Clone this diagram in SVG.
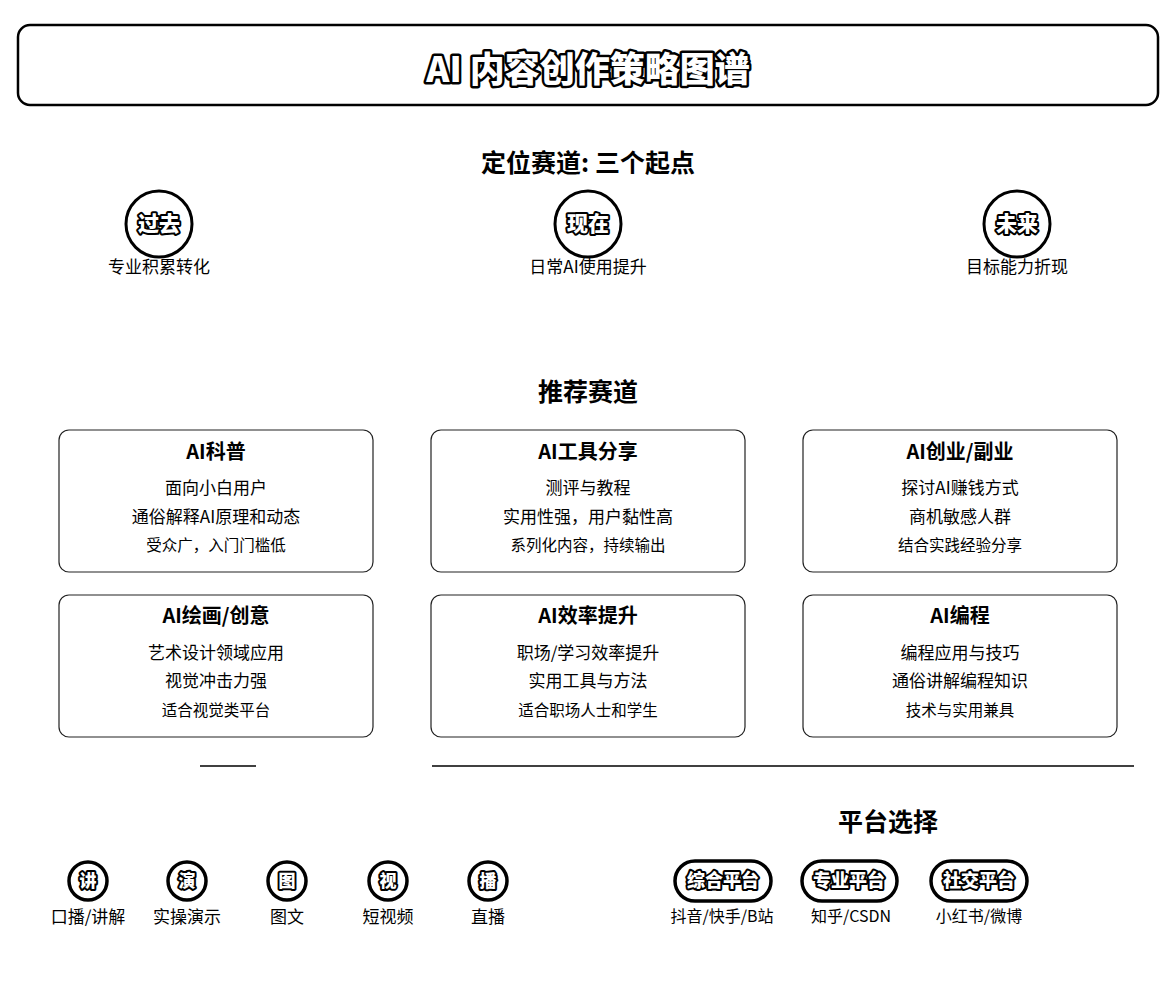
<svg xmlns="http://www.w3.org/2000/svg" width="1174" height="1004" viewBox="0 0 1174 1004">
<style>
text{font-family:"Noto Sans CJK SC","Liberation Sans",sans-serif;fill:#000;text-anchor:middle}
.title{font-size:35px;font-weight:900;fill:#fff;stroke:#000;stroke-width:5px;paint-order:stroke;stroke-linejoin:round}
.h2{font-size:25px;font-weight:700}
.big{fill:#fff;stroke:#000;stroke-width:3px}
.halo{font-weight:900;fill:#fff;stroke:#000;stroke-width:4px;paint-order:stroke;stroke-linejoin:round}
.lbl{font-size:17px}
.plbl{font-size:16px}
.card{fill:#fff;stroke:#222;stroke-width:1.2px}
.ct{font-size:20px;font-weight:700}
.cl{font-size:17px}
.cs{font-size:15.5px}
.sm{fill:#fff;stroke:#000;stroke-width:3.5px}
.rule{stroke:#000;stroke-width:1.5px}
</style>
<rect width="1174" height="1004" fill="#fff"/>
<g id="header">
<rect x="18" y="25" width="1140" height="80" rx="12" fill="#fff" stroke="#000" stroke-width="2.5"/>
<text class="title" x="588" y="82">AI 内容创作策略图谱</text>
</g>
<g id="section-start">
<text class="h2" x="588" y="172">定位赛道: 三个起点</text>
</g>
<g id="node-past">
<circle class="big" cx="159" cy="224" r="33"/>
<text class="halo" x="159" y="231" font-size="21">过去</text>
<text class="lbl" x="159" y="273">专业积累转化</text>
</g>
<g id="node-now">
<circle class="big" cx="588" cy="224" r="33"/>
<text class="halo" x="588" y="231" font-size="21">现在</text>
<text class="lbl" x="588" y="273">日常AI使用提升</text>
</g>
<g id="node-future">
<circle class="big" cx="1017" cy="224" r="33"/>
<text class="halo" x="1017" y="231" font-size="21">未来</text>
<text class="lbl" x="1017" y="273">目标能力折现</text>
</g>
<g id="section-tracks">
<text class="h2" x="588" y="401">推荐赛道</text>
</g>
<g id="card-kepu">
<rect class="card" x="59" y="430" width="314" height="142" rx="10"/>
<text class="ct" x="216" y="459">AI科普</text>
<text class="cl" x="216" y="494">面向小白用户</text>
<text class="cl" x="216" y="523">通俗解释AI原理和动态</text>
<text class="cs" x="216" y="551">受众广，入门门槛低</text>
</g>
<g id="card-tools">
<rect class="card" x="431" y="430" width="314" height="142" rx="10"/>
<text class="ct" x="588" y="459">AI工具分享</text>
<text class="cl" x="588" y="494">测评与教程</text>
<text class="cl" x="588" y="523">实用性强，用户黏性高</text>
<text class="cs" x="588" y="551">系列化内容，持续输出</text>
</g>
<g id="card-business">
<rect class="card" x="803" y="430" width="314" height="142" rx="10"/>
<text class="ct" x="960" y="459">AI创业/副业</text>
<text class="cl" x="960" y="494">探讨AI赚钱方式</text>
<text class="cl" x="960" y="523">商机敏感人群</text>
<text class="cs" x="960" y="551">结合实践经验分享</text>
</g>
<g id="card-art">
<rect class="card" x="59" y="595" width="314" height="142" rx="10"/>
<text class="ct" x="216" y="623">AI绘画/创意</text>
<text class="cl" x="216" y="659">艺术设计领域应用</text>
<text class="cl" x="216" y="687">视觉冲击力强</text>
<text class="cs" x="216" y="716">适合视觉类平台</text>
</g>
<g id="card-efficiency">
<rect class="card" x="431" y="595" width="314" height="142" rx="10"/>
<text class="ct" x="588" y="623">AI效率提升</text>
<text class="cl" x="588" y="659">职场/学习效率提升</text>
<text class="cl" x="588" y="687">实用工具与方法</text>
<text class="cs" x="588" y="716">适合职场人士和学生</text>
</g>
<g id="card-coding">
<rect class="card" x="803" y="595" width="314" height="142" rx="10"/>
<text class="ct" x="960" y="623">AI编程</text>
<text class="cl" x="960" y="659">编程应用与技巧</text>
<text class="cl" x="960" y="687">通俗讲解编程知识</text>
<text class="cs" x="960" y="716">技术与实用兼具</text>
</g>
<g id="connectors">
<line class="rule" x1="200" y1="766" x2="256" y2="766"/>
<line class="rule" x1="432" y1="766" x2="1134" y2="766"/>
</g>
<g id="section-platform">
<text class="h2" x="888" y="831">平台选择</text>
</g>
<g id="form-talk">
<circle class="sm" cx="88" cy="881" r="19"/>
<text class="halo" x="88" y="887" font-size="17">讲</text>
<text class="lbl" x="88" y="923">口播/讲解</text>
</g>
<g id="form-demo">
<circle class="sm" cx="187" cy="881" r="19"/>
<text class="halo" x="187" y="887" font-size="17">演</text>
<text class="lbl" x="187" y="923">实操演示</text>
</g>
<g id="form-image">
<circle class="sm" cx="287" cy="881" r="19"/>
<text class="halo" x="287" y="887" font-size="17">图</text>
<text class="lbl" x="287" y="923">图文</text>
</g>
<g id="form-video">
<circle class="sm" cx="388" cy="881" r="19"/>
<text class="halo" x="388" y="887" font-size="17">视</text>
<text class="lbl" x="388" y="923">短视频</text>
</g>
<g id="form-live">
<circle class="sm" cx="488" cy="881" r="19"/>
<text class="halo" x="488" y="887" font-size="17">播</text>
<text class="lbl" x="488" y="923">直播</text>
</g>
<g id="platform-general">
<rect class="sm" x="675" y="861" width="96" height="40" rx="20"/>
<text class="halo" x="723" y="887" font-size="18">综合平台</text>
<text class="plbl" x="722" y="922">抖音/快手/B站</text>
</g>
<g id="platform-pro">
<rect class="sm" x="802" y="861" width="95" height="40" rx="20"/>
<text class="halo" x="849" y="887" font-size="18">专业平台</text>
<text class="plbl" x="851" y="922">知乎/CSDN</text>
</g>
<g id="platform-social">
<rect class="sm" x="931" y="861" width="96" height="40" rx="20"/>
<text class="halo" x="979" y="887" font-size="18">社交平台</text>
<text class="plbl" x="979" y="922">小红书/微博</text>
</g>
</svg>
